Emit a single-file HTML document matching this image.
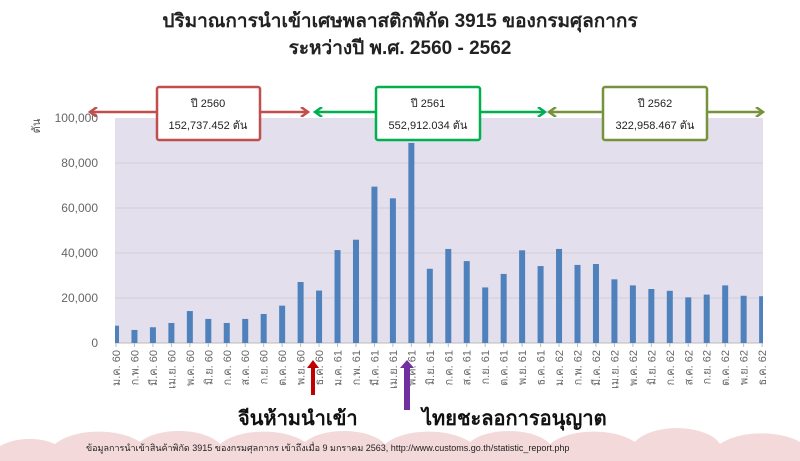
<!DOCTYPE html>
<html><head><meta charset="utf-8"><style>
html,body{margin:0;width:800px;height:461px;overflow:hidden;background:#fff;font-family:"Liberation Sans","Noto Sans CJK SC",sans-serif;}
svg{display:block}
</style></head><body>
<svg width="800" height="461" viewBox="0 0 800 461" overflow="hidden" xmlns="http://www.w3.org/2000/svg" font-family="Liberation Sans, Noto Sans CJK SC, sans-serif">
<defs><marker id="a" markerWidth="10" markerHeight="10" refX="8" refY="5" orient="auto-start-reverse" markerUnits="userSpaceOnUse"><path d="M1,0 L8,5 L1,10" fill="none" stroke="context-stroke" stroke-width="2.5"/></marker></defs>
<path fill="#f3d9da" d="M0,461 L0,446 A40,22 0 0 1 55,444 A50,24 0 0 1 140,442 A45,22 0 0 1 220,444 A50,24 0 0 1 305,442 A45,22 0 0 1 385,444 A50,24 0 0 1 470,442 A45,22 0 0 1 550,444 A50,24 0 0 1 635,442 A45,22 0 0 1 720,444 A50,24 0 0 1 800,442 L800,461 Z"/>
<text x="400" y="27" text-anchor="middle" font-size="19" font-weight="bold" fill="#222">ปริมาณการนำเข้าเศษพลาสติกพิกัด 3915 ของกรมศุลกากร</text>
<text x="400" y="54" text-anchor="middle" font-size="19" font-weight="bold" fill="#222">ระหว่างปี พ.ศ. 2560 - 2562</text>
<rect x="115" y="118" width="648" height="225" fill="#e3dfec"/>
<g stroke="#d3cfd9" stroke-width="1">
<line x1="115" x2="763" y1="163" y2="163"/><line x1="115" x2="763" y1="208" y2="208"/><line x1="115" x2="763" y1="253" y2="253"/><line x1="115" x2="763" y1="298" y2="298"/>
</g>
<line x1="115" x2="763" y1="343" y2="343" stroke="#bbb"/>
<g font-size="12" fill="#666" text-anchor="end">
<text x="98" y="122">100,000</text><text x="98" y="167">80,000</text><text x="98" y="212">60,000</text><text x="98" y="257">40,000</text><text x="98" y="302">20,000</text><text x="98" y="347">0</text>
</g>
<text transform="translate(40,126) rotate(-90)" font-size="11" fill="#555" text-anchor="middle">ตัน</text>
<g id="bars" fill="#4f81bd"></g>
<g id="lbl" font-size="11" fill="#666"></g>
<line x1="90" y1="112" x2="308" y2="112" stroke="#c0504d" stroke-width="2.5" marker-start="url(#a)" marker-end="url(#a)"/>
<line x1="315" y1="112" x2="545" y2="112" stroke="#00b050" stroke-width="2.5" marker-start="url(#a)" marker-end="url(#a)"/>
<line x1="549" y1="112" x2="763" y2="112" stroke="#76923c" stroke-width="2.5" marker-start="url(#a)" marker-end="url(#a)"/>
<rect x="157" y="87" width="103" height="53" fill="#fff" stroke="#c0504d" stroke-width="2.5" rx="2"/>
<rect x="376" y="87" width="104" height="53" fill="#fff" stroke="#00b050" stroke-width="2.5" rx="2"/>
<rect x="603" y="87" width="104" height="53" fill="#fff" stroke="#76923c" stroke-width="2.5" rx="2"/>
<g font-size="11" fill="#222" text-anchor="middle">
<text x="208" y="107">ปี 2560</text><text x="208" y="129">152,737.452  ตัน</text>
<text x="428" y="107">ปี 2561</text><text x="428" y="129">552,912.034  ตัน</text>
<text x="655" y="107">ปี 2562</text><text x="655" y="129">322,958.467  ตัน</text>
</g>
<path d="M311,395 V368 H307 L313,360 L319,368 H315 V395Z" fill="#c00000"/>
<path d="M404,410 V368 H400 L407,360 L414,368 H410 V410Z" fill="#7030a0"/>
<text x="238" y="425" font-size="20" font-weight="bold" fill="#111">จีนห้ามนำเข้า</text>
<text x="422" y="425" font-size="20" font-weight="bold" fill="#111">ไทยชะลอการอนุญาต</text>
<text x="86" y="451" font-size="9" fill="#222">ข้อมูลการนำเข้าสินค้าพิกัด 3915 ของกรมศุลกากร เข้าถึงเมื่อ 9 มกราคม 2563, http://www.customs.go.th/statistic_report.php</text>
</svg>
<script>
var v=[7.7,5.8,7,8.9,14.2,10.7,8.9,10.7,12.9,16.6,27.1,23.3,41.3,45.9,69.5,64.3,88.9,33,41.8,36.4,24.7,30.7,41.2,34.2,41.8,34.7,35.1,28.3,25.6,24,23.2,20.3,21.5,25.6,21,20.8];
var m=["ม.ค.","ก.พ.","มี.ค.","เม.ย.","พ.ค.","มิ.ย.","ก.ค.","ส.ค.","ก.ย.","ต.ค.","พ.ย.","ธ.ค."];
var b='',l='';
for(var i=0;i<36;i++){var x=116+i*18.46,h=v[i]*2.25;
var x0=Math.max(115,x-3),x1=Math.min(763,x+3);
b+='<rect x="'+x0+'" y="'+(343-h)+'" width="'+(x1-x0)+'" height="'+h+'"/>';
b+='<line x1="'+x+'" x2="'+x+'" y1="343" y2="347" stroke="#bbb"/>';
l+='<text transform="translate('+(x+4)+',350) rotate(-90)" text-anchor="end">'+m[i%12]+' '+(60+Math.floor(i/12))+'</text>';}
document.getElementById('bars').innerHTML=b;document.getElementById('lbl').innerHTML=l;
</script>
</body></html>
